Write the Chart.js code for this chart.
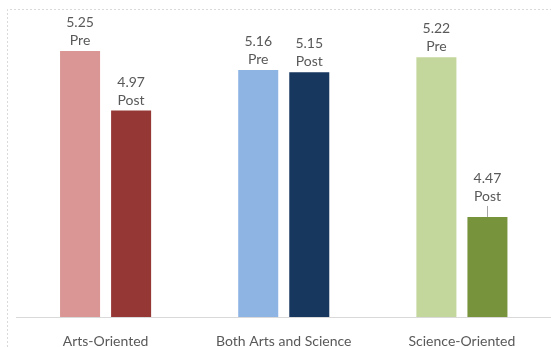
<!DOCTYPE html>
<html>
<head>
<meta charset="utf-8">
<script src="https://cdn.jsdelivr.net/npm/chart.js@4/dist/chart.umd.min.js"></script>
<style>
  html, body { margin: 0; padding: 0; background: #ffffff; }
  #wrap { position: relative; width: 551px; height: 347px; }
</style>
</head>
<body>
<div id="wrap"><canvas id="chart" width="551" height="347"></canvas></div>
<script>
// Mean scores per group, before and after
const categories = ['Arts-Oriented', 'Both Arts and Science', 'Science-Oriented'];
const seriesNames = ['Pre', 'Post'];
const preValues = [5.25, 5.16, 5.22];
const postValues = [4.97, 5.15, 4.47];

// Each group keeps its own hue: light tone for Pre, dark tone for Post
const preColors = ['#D99694', '#8EB4E3', '#C3D69B'];
const postColors = ['#953735', '#17375E', '#77933C'];

const TEXT = '#595959';
const FONT = 'Lato, "Open Sans", sans-serif';
const FONT_SIZE = 14;

// Dashed outline along the top and left of the chart
const frame = {
  id: 'frame',
  beforeDraw(chart) {
    const ctx = chart.ctx;
    ctx.save();
    ctx.strokeStyle = '#D9D9D9';
    ctx.lineWidth = 1;
    ctx.setLineDash([2, 2]);
    ctx.beginPath();
    ctx.moveTo(7.5, chart.height);
    ctx.lineTo(7.5, 9.5);
    ctx.lineTo(chart.width, 9.5);
    ctx.stroke();
    ctx.restore();
  }
};

// Two-line labels (value, then series name) above every bar
const barLabels = {
  id: 'barLabels',
  afterDatasetsDraw(chart, args, opts) {
    const ctx = chart.ctx;
    ctx.save();
    ctx.font = FONT_SIZE + 'px ' + FONT;
    ctx.fillStyle = TEXT;
    ctx.textAlign = 'center';
    ctx.textBaseline = 'alphabetic';
    chart.data.datasets.forEach((ds, di) => {
      chart.getDatasetMeta(di).data.forEach((bar, i) => {
        const lift = (opts.leader[di] && opts.leader[di][i]) || 0;
        const nameBase = bar.y - 6 - lift;
        ctx.fillText(ds.data[i].toFixed(2), bar.x, nameBase - 18);
        ctx.fillText(ds.label, bar.x, nameBase);
        if (lift) {
          ctx.strokeStyle = '#A6A6A6';
          ctx.lineWidth = 1;
          ctx.beginPath();
          ctx.moveTo(Math.round(bar.x) + 0.5, nameBase + 5);
          ctx.lineTo(Math.round(bar.x) + 0.5, bar.y);
          ctx.stroke();
        }
      });
    });
    ctx.restore();
  }
};

new Chart(document.getElementById('chart'), {
  type: 'bar',
  data: {
    labels: categories,
    datasets: [
      { label: seriesNames[0], data: preValues, backgroundColor: preColors },
      { label: seriesNames[1], data: postValues, backgroundColor: postColors }
    ]
  },
  options: {
    responsive: false,
    animation: false,
    devicePixelRatio: 1,
    layout: { padding: { top: 19, left: 16.5, right: 0, bottom: 0 } },
    datasets: { bar: { categoryPercentage: 0.573, barPercentage: 0.784 } },
    plugins: {
      legend: { display: false },
      tooltip: { enabled: false },
      barLabels: { leader: { 1: { 2: 10 } } }
    },
    scales: {
      x: {
        grid: { display: false, drawTicks: false },
        border: { display: true, color: '#D9D9D9', width: 1 },
        ticks: { color: TEXT, font: { family: FONT, size: FONT_SIZE }, padding: 16, maxRotation: 0 },
        afterFit(scale) { scale.height = 30; }
      },
      y: {
        display: false,
        min: 4,
        max: 5.4
      }
    }
  },
  plugins: [frame, barLabels]
});
</script>
</body>
</html>
